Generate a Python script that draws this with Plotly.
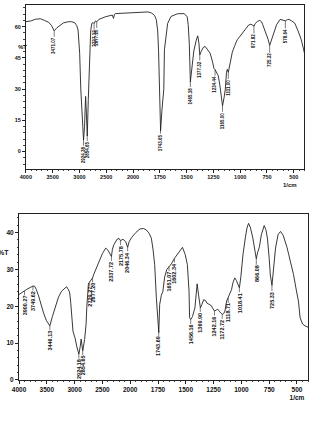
import numpy as np
import plotly.graph_objects as go

# ---------------- data ----------------
top_wn = [4000, 3900, 3820, 3756, 3726, 3650, 3574, 3520, 3471, 3420, 3362, 3300, 3208, 3150,
          3088, 3050, 3026, 3010, 2996, 2975, 2950, 2924, 2905, 2885, 2870, 2854, 2835, 2815,
          2790, 2770, 2745, 2727, 2700, 2677, 2640, 2510, 2440, 2387, 2365, 2345, 2327, 2144,
          2050, 1948, 1859, 1828, 1800, 1783, 1770, 1762, 1752, 1743, 1730, 1713, 1707, 1690,
          1677, 1646, 1586, 1525, 1495, 1485, 1475, 1465, 1450, 1433, 1410, 1396, 1385, 1377,
          1365, 1345, 1327, 1305, 1281, 1260, 1245, 1234, 1220, 1205, 1190, 1180, 1165, 1150,
          1139, 1128, 1120, 1111, 1100, 1074, 1050, 1028, 1000, 982, 950, 921, 900, 880, 871,
          860, 840, 817, 800, 790, 760, 740, 725, 712, 700, 689, 660, 628, 600, 578, 560, 545,
          520, 491, 460, 430, 400]
top_T = [62.4, 62.8, 63.6, 63.5, 63.8, 63.0, 62.1, 60.5, 58.0, 59.5, 60.8, 61.8, 62.4, 62.4,
         61.9, 60.5, 58.4, 54.0, 47.3, 30.0, 15.0, 5.5, 12.0, 26.5, 18.0, 7.5, 25.0, 45.0,
         58.0, 61.6, 62.0, 61.5, 62.8, 62.3, 63.5, 64.8, 65.2, 65.6, 64.0, 66.0, 66.3, 66.6,
         66.8, 67.1, 67.1, 66.6, 65.5, 63.4, 58.0, 48.9, 30.0, 10.0, 20.0, 29.9, 48.9, 57.0,
         61.6, 64.9, 66.2, 66.3, 64.9, 61.0, 52.0, 33.5, 40.0, 48.3, 53.5, 55.6, 52.0, 46.5,
         48.0, 50.0, 50.5, 49.0, 47.3, 43.5, 40.0, 39.3, 38.0, 36.5, 32.0, 27.0, 22.0, 26.0,
         30.0, 38.0, 39.5, 38.0, 41.0, 47.7, 51.0, 53.7, 55.5, 56.8, 59.0, 60.8, 61.2, 60.8, 60.3,
         61.5, 62.5, 63.0, 62.3, 61.0, 57.0, 54.0, 51.0, 53.0, 55.5, 57.4, 61.0, 63.5, 63.3, 62.8,
         63.4, 63.5, 62.8, 61.7, 58.0, 53.7, 47.3]
top_peaks = ["3471.07", "2924.38", "2854.65", "2727.12", "2677.20", "1743.65", "1465.18",
             "1377.32", "1234.44", "1165.00", "1111.00", "871.82", "725.32", "578.64"]

bot_wn = [4000, 3950, 3912, 3900, 3860, 3800, 3764, 3749, 3718, 3690, 3648, 3600, 3559, 3510,
          3446, 3400, 3352, 3290, 3234, 3180, 3146, 3110, 3088, 3070, 3058, 3040, 3030, 3010,
          2994, 2960, 2924, 2900, 2882, 2868, 2854, 2820, 2794, 2780, 2765, 2750, 2729, 2710,
          2690, 2677, 2660, 2560, 2500, 2440, 2400, 2338, 2320, 2294, 2236, 2200, 2175, 2150,
          2130, 2080, 2046, 2020, 1986, 1950, 1912, 1880, 1854, 1830, 1810, 1795, 1780, 1765,
          1743, 1735, 1720, 1706, 1690, 1671, 1651, 1630, 1602, 1580, 1560, 1530, 1505, 1486,
          1471, 1466, 1456, 1440, 1418, 1398, 1385, 1378, 1369, 1355, 1339, 1320, 1311, 1290,
          1272, 1255, 1242, 1225, 1213, 1195, 1172, 1160, 1148, 1133, 1118, 1100, 1089, 1075,
          1060, 1045, 1030, 1018, 1005, 986, 965, 950, 936, 920, 897, 880, 866, 855, 839, 820,
          795, 780, 766, 750, 740, 725, 712, 693, 670, 648, 625, 604, 590, 574, 550, 531, 510,
          487, 472, 450, 428, 400]
bot_T = [23.2, 23.8, 24.3, 24.2, 24.6, 25.0, 25.3, 25.5, 25.4, 24.6, 22.8, 20.0, 18.2, 16.2,
         14.7, 17.2, 19.6, 22.5, 24.1, 25.0, 25.3, 24.5, 23.6, 21.0, 17.8, 14.0, 13.3, 12.2,
         11.5, 9.0, 7.0, 9.0, 11.1, 9.5, 7.9, 11.0, 15.1, 20.0, 25.4, 26.3, 26.6, 27.0,
         27.6, 27.7, 28.5, 32.2, 34.3, 35.8, 35.2, 33.5, 35.5, 36.7, 38.2, 38.4, 37.8, 38.0,
         38.2, 37.5, 36.0, 37.5, 38.7, 40.0, 41.0, 41.1, 40.7, 39.8, 38.5, 35.5, 31.3, 22.3,
         12.9, 20.5, 23.0, 24.1, 28.0, 30.0, 30.8, 31.5, 33.0, 34.0, 35.0, 36.0, 34.0, 31.3,
         24.1, 16.9, 16.4, 17.2, 19.6, 26.1, 23.0, 20.5, 19.6, 20.5, 21.8, 21.5, 20.9, 20.5,
         20.2, 19.3, 18.7, 19.0, 19.2, 18.5, 17.8, 18.0, 18.7, 21.4, 22.3, 23.5, 24.5, 26.5,
         27.7, 27.0, 25.5, 25.0, 28.0, 34.0, 38.5, 41.2, 42.5, 41.5, 38.5, 35.0, 32.9, 34.5,
         36.0, 39.5, 41.9, 40.8, 38.5, 33.0, 28.5, 25.7, 30.0, 35.8, 39.5, 40.3, 39.3, 37.6,
         36.0, 34.0, 31.0, 28.6, 25.0, 21.4, 16.9, 15.2, 14.7, 14.3]
bot_peaks = ["3900.27", "3749.62", "3446.13", "2924.18", "2854.65", "2729.27", "2677.20",
             "2337.72", "2175.78", "2046.34", "1743.69", "1651.07", "1602.34", "1456.16",
             "1369.90", "1242.16", "1172.72", "1118.71", "1018.41", "866.08", "725.33"]

x_tick_vals = [4000, 3500, 3000, 2500, 2000, 1750, 1500, 1250, 1000, 750, 500]
x_tick_text = [str(v) for v in x_tick_vals]
x_unit = "1/cm"
top_y_ticks = [0, 15, 30, 45, 60]
bot_y_ticks = [0, 10, 20, 30, 40]


# Shimadzu-style axis: 4000-2000 compressed by half
def to_axis(wn):
    wn = np.asarray(wn, float)
    return np.where(wn <= 2000, wn, 2000 + (wn - 2000) / 2)


FONT = "Liberation Sans, Arial, sans-serif"
W, H = 313, 421

fig = go.Figure()
fig.add_trace(go.Scatter(x=to_axis(top_wn), y=top_T, mode="lines",
                         line=dict(color="#222", width=0.9), xaxis="x", yaxis="y",
                         showlegend=False, hoverinfo="skip"))
fig.add_trace(go.Scatter(x=to_axis(bot_wn), y=bot_T, mode="lines",
                         line=dict(color="#222", width=0.9), xaxis="x2", yaxis="y2",
                         showlegend=False, hoverinfo="skip"))

annotations = []


def add_peaks(peaks, wn, T, xr, yr, size, ay):
    wn_a = np.asarray(wn, float)[::-1]
    T_a = np.asarray(T, float)[::-1]
    for p in peaks:
        v = float(p)
        yv = float(np.interp(v, wn_a, T_a))
        annotations.append(dict(
            x=float(to_axis(v)), y=yv, xref=xr, yref=yr, text=p, textangle=-90,
            showarrow=True, arrowhead=0, arrowwidth=0.6, arrowcolor="#222",
            ax=0, ay=ay, standoff=0, borderpad=0,
            font=dict(family=FONT, size=size, color="#111", weight="bold")))


add_peaks(top_peaks, top_wn, top_T, "x", "y", 4.5, 15)
add_peaks(bot_peaks, bot_wn, bot_T, "x2", "y2", 5.5, 15)

# axis titles
annotations += [
    dict(x=9.7 / W, y=1 - 42 / H, xref="paper", yref="paper", text="%T", showarrow=False,
         font=dict(family=FONT, size=6, color="#111", weight="bold")),
    dict(x=298 / W, y=1 - 186 / H, xref="paper", yref="paper", text=x_unit, showarrow=False,
         borderpad=0, font=dict(family=FONT, size=6, color="#111", weight="bold")),
    dict(x=4.5 / W, y=1 - 254 / H, xref="paper", yref="paper", text="%T", showarrow=False,
         xanchor="right", font=dict(family=FONT, size=7, color="#111", weight="bold")),
]

# bottom axis: unit written under the last tick label (as in the reference)
bot_tick_text = x_tick_text[:-1] + [x_tick_text[-1] + "<br>" + x_unit]

xax_common = dict(
    tickmode="array", tickvals=list(to_axis(x_tick_vals)),
    ticks="outside", ticklen=3, tickwidth=0.7, tickcolor="#222",
    showline=True, linecolor="#222", linewidth=1, mirror=True, showgrid=False,
    zeroline=False, range=[float(to_axis(4000)), float(to_axis(400))],
    minor=dict(ticks="outside", ticklen=1.5, dtick=50, tick0=0, tickcolor="#444"),
)
yax_common = dict(
    ticks="outside", ticklen=3, tickwidth=0.7, tickcolor="#222",
    showline=True, linecolor="#222", linewidth=1, mirror=True, showgrid=False,
    zeroline=False, tickmode="array",
)

fig.update_layout(
    width=W, height=H, margin=dict(l=0, r=0, t=0, b=0),
    paper_bgcolor="white", plot_bgcolor="white",
    xaxis=dict(**xax_common, ticktext=x_tick_text, domain=[19.3 / W, 304.3 / W], anchor="y",
               tickfont=dict(family=FONT, size=5.5, color="#111", weight="bold")),
    yaxis=dict(**yax_common, domain=[1 - 170 / H, 1 - 5.3 / H], anchor="x",
               range=[-8.3, 70.3], tickvals=top_y_ticks,
               minor=dict(ticks="outside", ticklen=1.5, dtick=3, tick0=0, tickcolor="#444"),
               tickfont=dict(family=FONT, size=5.5, color="#111", weight="bold")),
    xaxis2=dict(**xax_common, ticktext=bot_tick_text, domain=[12.3 / W, 308 / W], anchor="y2",
                tickfont=dict(family=FONT, size=6.5, color="#111", weight="bold")),
    yaxis2=dict(**yax_common, domain=[1 - 382.7 / H, 1 - 215.7 / H], anchor="x2",
                range=[0, 45], tickvals=bot_y_ticks,
                minor=dict(ticks="outside", ticklen=1.5, dtick=2, tick0=0, tickcolor="#444"),
                tickfont=dict(family=FONT, size=6.5, color="#111", weight="bold")),
    annotations=annotations,
)

fig.write_html("out.html")
